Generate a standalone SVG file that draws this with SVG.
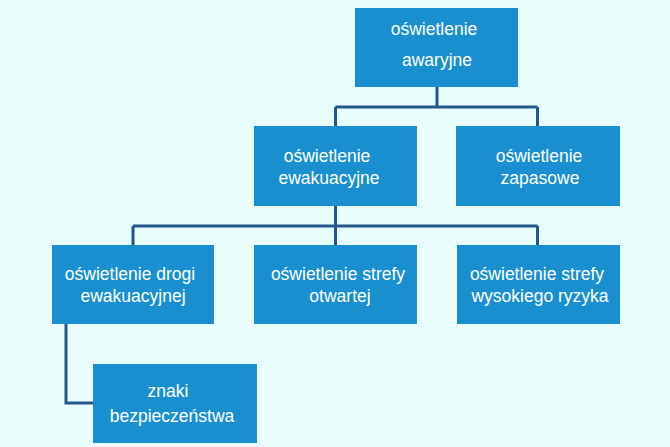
<svg xmlns="http://www.w3.org/2000/svg" width="670" height="447" viewBox="0 0 670 447">
<style>
.box{fill:#1a8fd0}
.t{font-family:"Liberation Sans",Arial,sans-serif;font-size:17.5px;fill:#ffffff;text-anchor:middle}
.c{fill:none;stroke:#24578a;stroke-width:3}
</style>
<rect width="670" height="447" fill="#e9fcfc"/>
<g id="connectors">
<path class="c" d="M437 87V107M335.5 107H537.5M335.5 107V126M537.5 107V126"/>
<path class="c" d="M335.5 206V226M133 226H537.5M133 226V245M335.5 226V245M537.5 226V245"/>
<path class="c" d="M66 324V403H93"/>
</g>
<g id="n1"><rect class="box" x="355" y="8" width="163" height="79"/><text class="t" x="434" y="35">oświetlenie</text><text class="t" x="437" y="66">awaryjne</text></g>
<g id="n2"><rect class="box" x="254" y="126" width="163" height="80"/><text class="t" x="327" y="162">oświetlenie</text><text class="t" x="329" y="184">ewakuacyjne</text></g>
<g id="n3"><rect class="box" x="456" y="126" width="164" height="80"/><text class="t" x="539" y="162">oświetlenie</text><text class="t" x="540" y="184">zapasowe</text></g>
<g id="n4"><rect class="box" x="52" y="245" width="162" height="79"/><text class="t" x="130" y="280">oświetlenie drogi</text><text class="t" x="133" y="302">ewakuacyjnej</text></g>
<g id="n5"><rect class="box" x="254" y="245" width="163" height="79"/><text class="t" x="338" y="280">oświetlenie strefy</text><text class="t" x="340" y="302">otwartej</text></g>
<g id="n6"><rect class="box" x="457" y="245" width="163" height="79"/><text class="t" x="537" y="280">oświetlenie strefy</text><text class="t" x="540" y="302">wysokiego ryzyka</text></g>
<g id="n7"><rect class="box" x="93" y="364" width="164" height="79"/><text class="t" x="168" y="397">znaki</text><text class="t" x="172" y="422">bezpieczeństwa</text></g>
</svg>
